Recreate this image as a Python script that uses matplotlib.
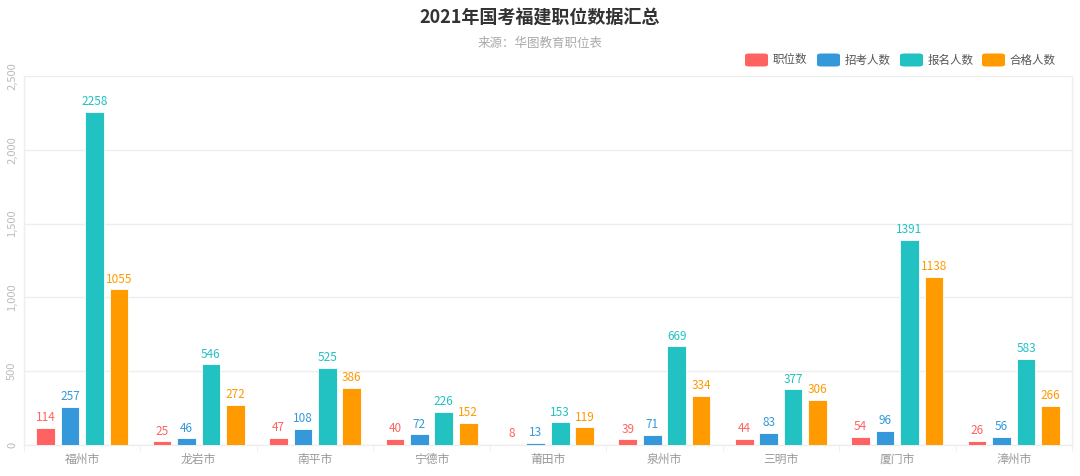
import matplotlib
matplotlib.use("Agg")
import matplotlib.pyplot as plt
from matplotlib.patches import FancyBboxPatch
import numpy as np

plt.rcParams['font.family'] = ['Noto Sans CJK SC', 'DejaVu Sans']

cities = ["福州市", "龙岩市", "南平市", "宁德市", "莆田市", "泉州市", "三明市", "厦门市", "漳州市"]
series_names = ["职位数", "招考人数", "报名人数", "合格人数"]
positions = [114, 25, 47, 40, 8, 39, 44, 54, 26]
recruits = [257, 46, 108, 72, 13, 71, 83, 96, 56]
applicants = [2258, 546, 525, 226, 153, 669, 377, 1391, 583]
qualified = [1055, 272, 386, 152, 119, 334, 306, 1138, 266]
colors = ["#FF6361", "#3498DB", "#22C1C2", "#FF9A00"]

series = [positions, recruits, applicants, qualified]

fig = plt.figure(figsize=(10.8, 4.76), dpi=100)
ax = fig.add_axes([24/1080, 1-445/476, (1072-24)/1080, (445-76)/476])

x = np.arange(len(cities))
spacing = 0.21
width = 0.16
for i, (vals, c) in enumerate(zip(series, colors)):
    off = (i - 1.5) * spacing
    ax.bar(x + off, vals, width, color=c, edgecolor='white', linewidth=0.6, zorder=3)
    for xi, v in zip(x + off, vals):
        ax.text(xi, v + 25, str(v), ha='center', va='bottom', color=c, fontsize=8.5, zorder=4)

ax.set_xlim(-0.5, len(cities) - 0.5)
ax.set_ylim(0, 2500)
ax.set_yticks([0, 500, 1000, 1500, 2000, 2500])
ax.set_yticklabels(["0", "500", "1,000", "1,500", "2,000", "2,500"], rotation=90, va='center',
                   color='#BBBBBB', fontsize=8)
ax.set_xticks(x)
ax.set_xticklabels(cities, color='#999999', fontsize=8.5)
ax.tick_params(axis='x', length=0, pad=6)
ax.tick_params(axis='y', length=0, pad=5)
ax.set_xticks(np.arange(-0.5, len(cities), 1), minor=True)
ax.tick_params(axis='x', which='minor', length=4, color='#EEEEEE')
ax.grid(axis='y', color='#EEEEEE', linewidth=1, zorder=0)
ax.spines['top'].set_visible(False)
for s in ['left', 'right', 'bottom']:
    ax.spines[s].set_color('#EEEEEE')
    ax.spines[s].set_linewidth(1)

fig.text(0.5, 1-18/476, "2021年国考福建职位数据汇总", ha='center', va='center',
         fontsize=13, fontweight='bold', color='#333333')
fig.text(0.5, 1-43/476, "来源：华图教育职位表", ha='center', va='center',
         fontsize=9, color='#AAAAAA')

# legend
leg_items = [(745, "职位数"), (817, "招考人数"), (900, "报名人数"), (982, "合格人数")]
ly = 1 - 60/476
for (px, name), c in zip(leg_items, colors):
    box = FancyBboxPatch((px/1080, ly - 6.5/476), 23/1080, 13/476,
                         boxstyle="round,pad=0,rounding_size=0.004",
                         transform=fig.transFigure, facecolor=c, edgecolor='none')
    fig.patches.append(box)
    fig.text((px + 28)/1080, ly, name, ha='left', va='center', fontsize=8.3, color='#555555')

fig.savefig("out.png", dpi=100, facecolor='white')
